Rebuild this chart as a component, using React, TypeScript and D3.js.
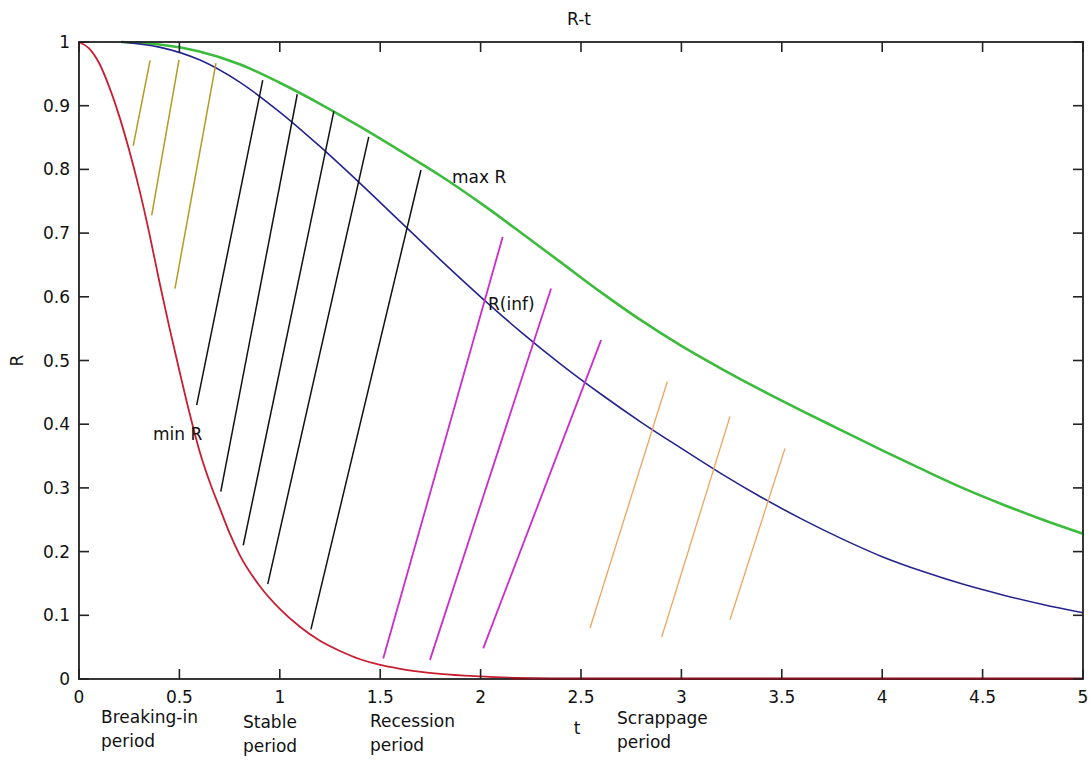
import React from "react";
import * as d3 from "d3";

const W = 1092;
const H = 761;

// Curves (t, R)
const minRT = [0, 0.05, 0.1, 0.15, 0.2, 0.25, 0.3, 0.35, 0.4, 0.45, 0.5, 0.55, 0.6, 0.65, 0.7, 0.75, 0.8, 0.9, 1.0, 1.1, 1.2, 1.3, 1.4, 1.5, 1.6, 1.8, 2.0, 2.2, 2.5, 3, 3.5, 4, 4.5, 5];
const minRV = [1, 0.99, 0.967, 0.93, 0.884, 0.83, 0.769, 0.7, 0.624, 0.552, 0.484, 0.418, 0.358, 0.31, 0.269, 0.229, 0.195, 0.146, 0.11, 0.082, 0.06, 0.044, 0.031, 0.022, 0.016, 0.008, 0.004, 0.0015, 0, 0, 0, 0, 0, 0];

const gridT = [0.21, 0.4, 0.6, 0.8, 1.0, 1.2, 1.4, 1.6, 1.8, 2.0, 2.2, 2.4, 2.6, 2.8, 3.0, 3.2, 3.4, 3.6, 3.8, 4.0, 4.2, 4.4, 4.6, 4.8, 5.0];
const maxRV = [1.0, 0.996, 0.985, 0.965, 0.936, 0.903, 0.867, 0.829, 0.79, 0.747, 0.701, 0.654, 0.607, 0.563, 0.523, 0.487, 0.453, 0.421, 0.39, 0.359, 0.329, 0.3, 0.274, 0.25, 0.228];
const infRV = [1.0, 0.992, 0.972, 0.937, 0.89, 0.836, 0.778, 0.718, 0.658, 0.6, 0.545, 0.494, 0.447, 0.403, 0.362, 0.322, 0.285, 0.251, 0.22, 0.192, 0.169, 0.149, 0.132, 0.117, 0.104];

// Hatch segments: [tTop, RTop, tBottom, RBottom]
const breakingIn = [
  [0.354, 0.971, 0.27, 0.837],
  [0.498, 0.972, 0.362, 0.728],
  [0.682, 0.967, 0.478, 0.613],
];
const stable = [
  [0.915, 0.94, 0.586, 0.43],
  [1.087, 0.918, 0.706, 0.294],
  [1.269, 0.891, 0.818, 0.21],
  [1.443, 0.851, 0.94, 0.149],
  [1.703, 0.799, 1.155, 0.078],
];
const recession = [
  [2.11, 0.694, 1.515, 0.032],
  [2.351, 0.613, 1.748, 0.03],
  [2.6, 0.532, 2.013, 0.048],
];
const scrappage = [
  [2.93, 0.467, 2.545, 0.08],
  [3.242, 0.412, 2.902, 0.066],
  [3.516, 0.362, 3.242, 0.093],
];

const xTicks = [0, 0.5, 1, 1.5, 2, 2.5, 3, 3.5, 4, 4.5, 5];
const yTicks = [0, 0.1, 0.2, 0.3, 0.4, 0.5, 0.6, 0.7, 0.8, 0.9, 1];

const FONT = "'DejaVu Sans', sans-serif";
const FS = 17;

export default function App() {
  const x = d3.scaleLinear().domain([0, 5]).range([79, 1083]);
  const y = d3.scaleLinear().domain([0, 1]).range([679, 42]);

  const line = d3
    .line<[number, number]>()
    .x((d) => x(d[0]))
    .y((d) => y(d[1]))
    .curve(d3.curveMonotoneX);

  const minPts = minRT.map((t, i) => [t, minRV[i]] as [number, number]);
  const maxPts = gridT.map((t, i) => [t, maxRV[i]] as [number, number]);
  const infPts = gridT.map((t, i) => [t, infRV[i]] as [number, number]);

  const segs = (arr: number[][], color: string, w: number, key: string) =>
    arr.map((s, i) => (
      <line
        key={key + i}
        x1={x(s[0])}
        y1={y(s[1])}
        x2={x(s[2])}
        y2={y(s[3])}
        stroke={color}
        strokeWidth={w}
      />
    ));

  const axisColor = "#222";
  const tickLen = 10;
  const [x0, x1] = x.range();
  const [y0, y1] = y.range();

  return (
    <svg
      width={W}
      height={H}
      style={{ position: "absolute", left: 0, top: 0, background: "#fff" }}
      fontFamily={FONT}
    >
      <rect x={0} y={0} width={W} height={H} fill="#fff" />
      {/* title */}
      <text x={579} y={25} textAnchor="middle" fontSize={FS} fill="#111">
        R-t
      </text>

      {/* curves */}
      <path d={line(maxPts) || ""} fill="none" stroke="#3dbb3d" strokeWidth={2.6} />
      <path d={line(infPts) || ""} fill="none" stroke="#24248f" strokeWidth={1.6} />
      <path d={line(minPts) || ""} fill="none" stroke="#c81e32" strokeWidth={1.8} />

      {/* hatch segments */}
      {segs(breakingIn, "#b49a1e", 1.5, "b")}
      {segs(stable, "#111", 1.5, "s")}
      {segs(recession, "#cc2ccc", 1.8, "r")}
      {segs(scrappage, "#eea560", 1.3, "c")}

      {/* axes box */}
      <rect
        x={x0}
        y={y1}
        width={x1 - x0}
        height={y0 - y1}
        fill="none"
        stroke={axisColor}
        strokeWidth={1.8}
      />
      {/* red curve lying on the x-axis where min R is ~0 */}
      <line x1={x(2.15)} y1={y(0) - 0.5} x2={x(5)} y2={y(0) - 0.5} stroke="#8a1020" strokeWidth={1.8} />

      {xTicks.map((t) => (
        <g key={"xt" + t}>
          <line x1={x(t)} x2={x(t)} y1={y0} y2={y0 - tickLen} stroke={axisColor} strokeWidth={1.6} />
          <line x1={x(t)} x2={x(t)} y1={y1} y2={y1 + tickLen} stroke={axisColor} strokeWidth={1.6} />
          <text x={x(t)} y={703} textAnchor="middle" fontSize={FS} fill="#111">
            {d3.format("~g")(t)}
          </text>
        </g>
      ))}
      {yTicks.map((v) => (
        <g key={"yt" + v}>
          <line x1={x0} x2={x0 + tickLen} y1={y(v)} y2={y(v)} stroke={axisColor} strokeWidth={1.6} />
          <line x1={x1} x2={x1 - tickLen} y1={y(v)} y2={y(v)} stroke={axisColor} strokeWidth={1.6} />
          <text x={70} y={y(v)} textAnchor="end" dominantBaseline="central" fontSize={FS} fill="#111">
            {d3.format("~g")(v)}
          </text>
        </g>
      ))}

      {/* axis labels */}
      <text x={577} y={734} textAnchor="middle" fontSize={FS} fill="#111">
        t
      </text>
      <text
        transform={`translate(23,${(y0 + y1) / 2}) rotate(-90)`}
        textAnchor="middle"
        fontSize={FS}
        fill="#111"
      >
        R
      </text>

      {/* curve labels */}
      <text x={452} y={183} fontSize={FS} fill="#111">max R</text>
      <text x={488} y={310} fontSize={FS} fill="#111">R(inf)</text>
      <text x={153} y={440} fontSize={FS} fill="#111">min R</text>

      {/* period labels */}
      <text x={101} y={723} fontSize={FS} fill="#111">Breaking-in</text>
      <text x={101} y={747} fontSize={FS} fill="#111">period</text>
      <text x={243} y={728} fontSize={FS} fill="#111">Stable</text>
      <text x={243} y={752} fontSize={FS} fill="#111">period</text>
      <text x={370} y={727} fontSize={FS} fill="#111">Recession</text>
      <text x={370} y={751} fontSize={FS} fill="#111">period</text>
      <text x={617} y={724} fontSize={FS} fill="#111">Scrappage</text>
      <text x={617} y={748} fontSize={FS} fill="#111">period</text>
    </svg>
  );
}
